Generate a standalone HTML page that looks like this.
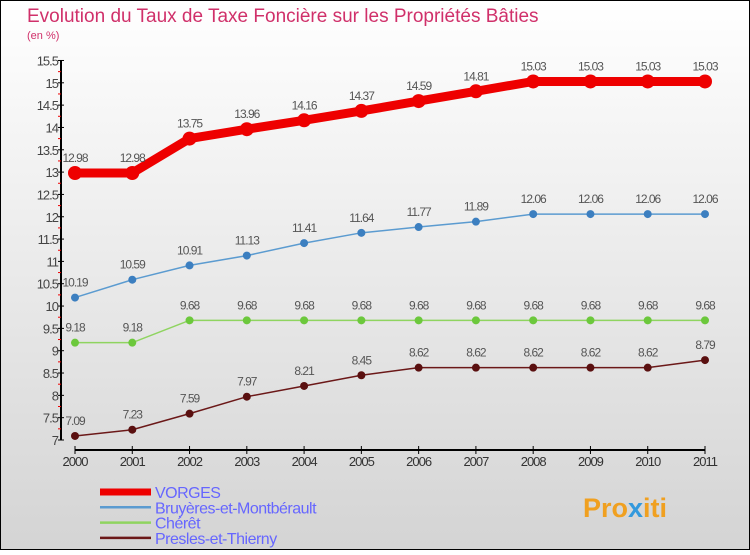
<!DOCTYPE html>
<html><head><meta charset="utf-8"><style>
html,body{margin:0;padding:0}
body{width:750px;height:550px;overflow:hidden;font-family:"Liberation Sans",sans-serif}
</style></head><body>
<svg width="750" height="550" xmlns="http://www.w3.org/2000/svg" id="svg">
<defs><linearGradient id="bg" x1="0" y1="0" x2="0" y2="1"><stop offset="0" stop-color="#ffffff"/><stop offset="1" stop-color="#d4d4d4"/></linearGradient></defs>
<rect x="0.5" y="0.5" width="749" height="549" fill="url(#bg)" stroke="#000"/>
<text x="27" y="22" font-size="19" fill="#d0306a">Evolution du Taux de Taxe Foncière sur les Propriétés Bâties</text>
<text x="27" y="39" font-size="11" fill="#d0306a">(en %)</text>
<g id="axes"></g><g id="series"></g><g id="legend"></g>
<text x="583" y="517" font-size="27" font-weight="bold" fill="#f0a020">Pro<tspan fill="#3399dd">x</tspan>iti</text>
</svg>
<script>
const years=[2000,2001,2002,2003,2004,2005,2006,2007,2008,2009,2010,2011];
const vorges=[12.98,12.98,13.75,13.96,14.16,14.37,14.59,14.81,15.03,15.03,15.03,15.03];
const bruyeres=[10.19,10.59,10.91,11.13,11.41,11.64,11.77,11.89,12.06,12.06,12.06,12.06];
const cheret=[9.18,9.18,9.68,9.68,9.68,9.68,9.68,9.68,9.68,9.68,9.68,9.68];
const presles=[7.09,7.23,7.59,7.97,8.21,8.45,8.62,8.62,8.62,8.62,8.62,8.79];
const yTicks=[7,7.5,8,8.5,9,9.5,10,10.5,11,11.5,12,12.5,13,13.5,14,14.5,15,15.5];
const names=["VORGES","Bruyères-et-Montbérault","Chérêt","Presles-et-Thierny"];
const NS="http://www.w3.org/2000/svg";
const X=i=>75+i*(630/(years.length-1));
const Y=v=>440-(v-7)*44.65;
function mk(p,t,a){const e=document.createElementNS(NS,t);for(const k in a)e.setAttribute(k,a[k]);p.appendChild(e);return e;}
const ax=document.getElementById('axes'),se=document.getElementById('series'),lg=document.getElementById('legend');
let l=mk(ax,'line',{x1:61,y1:Y(15.5),x2:61,y2:Y(7),stroke:'#000','stroke-width':2});


yTicks.forEach((v,k)=>{
 let t=mk(ax,'line',{x1:58,y1:Y(v),x2:64,y2:Y(v),stroke:'#000'});
 
 
 if(k<yTicks.length-1){
 let m=mk(ax,'line',{x1:58,y1:Y(v+0.25),x2:61,y2:Y(v+0.25),stroke:'#e00'});
 
 
 }
 let tx=mk(ax,'text',{x:58,y:Y(v)+5,'font-size':13,'text-anchor':'end',fill:'#444','letter-spacing':'-1'});
 tx.textContent=String(v);
 
 
});
l=mk(ax,'line',{x1:X(0),y1:450,x2:X(years.length-1),y2:450,stroke:'#000','stroke-width':2});


years.forEach((y,i)=>{
 let t=mk(ax,'line',{x1:X(i),y1:446,x2:X(i),y2:454,stroke:'#000'});
 
 
 let tx=mk(ax,'text',{x:X(i),y:466,'font-size':13,'text-anchor':'middle',fill:'#333','letter-spacing':'-1'});
 tx.textContent=y;
 
 
});
const series=[[vorges,'#ee0000',9,7],[bruyeres,'#5b9bd0',1.5,4],[cheret,'#8fd460',1.5,4],[presles,'#6b1818',1.5,4]];
const fills=['#ee0000','#3c7fc0','#6cc83c','#5a1010'];
series.forEach(([d,c,w,r],s)=>{
 let p=mk(se,'polyline',{points:d.map((v,i)=>X(i)+','+Y(v)).join(' '),fill:'none',stroke:c,'stroke-width':w});
 
 
 d.forEach((v,i)=>{
  let ci=mk(se,'circle',{cx:X(i),cy:Y(v),r:r,fill:fills[s]});
  
  
  let tx=mk(se,'text',{x:X(i),y:Y(v)-11,'font-size':12,'text-anchor':'middle',fill:'#555','letter-spacing':'-1'});
  tx.textContent=String(v);
  
  
 });
});
names.forEach((n,i)=>{
 const yy=492+i*15.3;
 let ln=mk(lg,'line',{x1:100,y1:yy,x2:151,y2:yy,stroke:series[i][1],'stroke-width':i?2.5:7});
 
 
 let tx=mk(lg,'text',{x:155,y:yy+6,'font-size':16,fill:'#6666ff','letter-spacing':'-0.5'});
 tx.textContent=n;
 
 
});
</script>
</body></html>
